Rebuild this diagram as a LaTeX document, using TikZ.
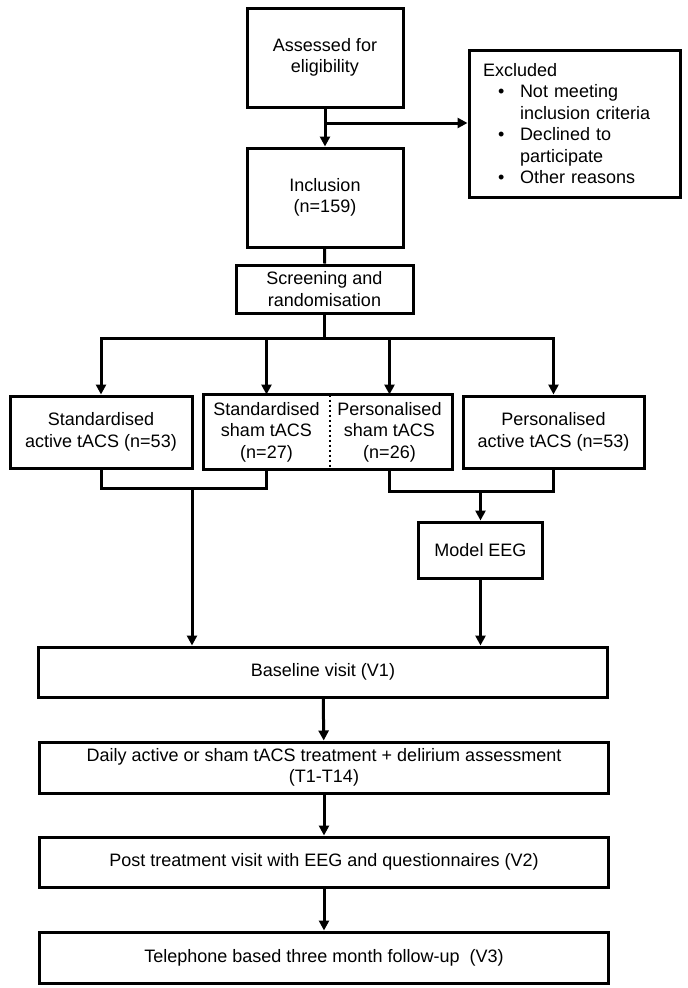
\documentclass[tikz,border=0pt]{standalone}
\usepackage{fontspec}
\setmainfont{Liberation Sans}
\usetikzlibrary{arrows.meta}

\newcommand{\exbullet}{\hspace*{15pt}\makebox[22pt][l]{\textbullet}}
\newcommand{\exindent}{\hspace*{37pt}}

\begin{document}
\begin{tikzpicture}[x=1pt,y=-1pt,
    box/.style={draw,line width=3pt,align=center,inner sep=3pt,font=\fontsize{18}{21.5}\selectfont},
    wide/.style={box,minimum width=569,minimum height=50},
    line/.style={line width=3pt},
    arr/.style={line width=3pt,-{Triangle[length=10pt,width=10pt]}}]

    % white background with the size of the page
    \fill[white] (0,0) rectangle (688,988);
    \useasboundingbox (0,0) rectangle (688,988);

    % enrolment
    \node[box,minimum width=156,minimum height=99] (assess) at (325,57.5) {Assessed for\\eligibility};
    \node[box,minimum width=156,minimum height=99] (incl) at (325,197.5) {Inclusion\\(n=159)};
    \node[box,minimum width=211,minimum height=147,text width=183,inner xsep=14,align=left] (excl) at (574.5,123.5)
        {Excluded\\ \exbullet Not meeting\\ \exindent inclusion criteria\\ \exbullet Declined to\\ \exindent participate\\ \exbullet Other reasons};
    \node[box,minimum width=177,minimum height=48] (screen) at (324.5,289) {Screening and\\randomisation};

    % the four arms
    \node[box,minimum width=182,minimum height=72] (sa) at (101,432) {Standardised\\active tACS (n=53)};
    \node[box,draw=none,minimum width=123,minimum height=72] (ss) at (266.5,432) {Standardised\\sham tACS\\(n=27)};
    \node[box,draw=none,minimum width=123,minimum height=72] (ps) at (389.5,432) {Personalised\\sham tACS\\(n=26)};
    \node[box,minimum width=181,minimum height=72] (pa) at (553.5,432) {Personalised\\active tACS (n=53)};
    \draw[line] (ss.north west) rectangle (ps.south east);
    \draw[line width=2pt,dash pattern=on 2.5pt off 2.5pt] (ss.north east) -- (ss.south east);

    \node[box,minimum width=124,minimum height=56] (model) at (480.5,550) {Model EEG};

    % visits
    \node[wide] (base) at (323,672) {Baseline visit (V1)};
    \node[wide,minimum height=51] (daily) at (324,767.5) {Daily active or sham tACS treatment + delirium assessment\\(T1-T14)};
    \node[wide] (post) at (324,862) {Post treatment visit with EEG and questionnaires (V2)};
    \node[wide,minimum height=51] (tel) at (324,957.5) {Telephone based three month follow-up~ (V3)};

    % connectors
    \coordinate (ex) at (325,123);
    \coordinate (br) at (324.5,338);
    \coordinate (jl) at (192,488);
    \coordinate (jr) at (480.5,491);

    \draw[arr] (assess) -- (incl);
    \draw[arr] (ex) -- (ex -| excl.west);
    \draw[line] (incl) -- (screen);
    \draw[line] (screen) -- (br);
    \foreach \n in {sa,ss,ps,pa}
        \draw[arr] (br) -| (\n.north);

    \draw[line] (sa.south) |- (jl) -| (ss.south);
    \draw[line] (ps.south) |- (jr) -| (pa.south);
    \draw[arr] (jr) -- (jr |- model.north);
    \draw[arr] (jl) -- (jl |- base.north);
    \draw[arr] (model.south) -- (model.south |- base.north);

    \draw[arr] (base) -- (daily);
    \draw[arr] (daily) -- (post);
    \draw[arr] (post) -- (tel);

\end{tikzpicture}
\end{document}
